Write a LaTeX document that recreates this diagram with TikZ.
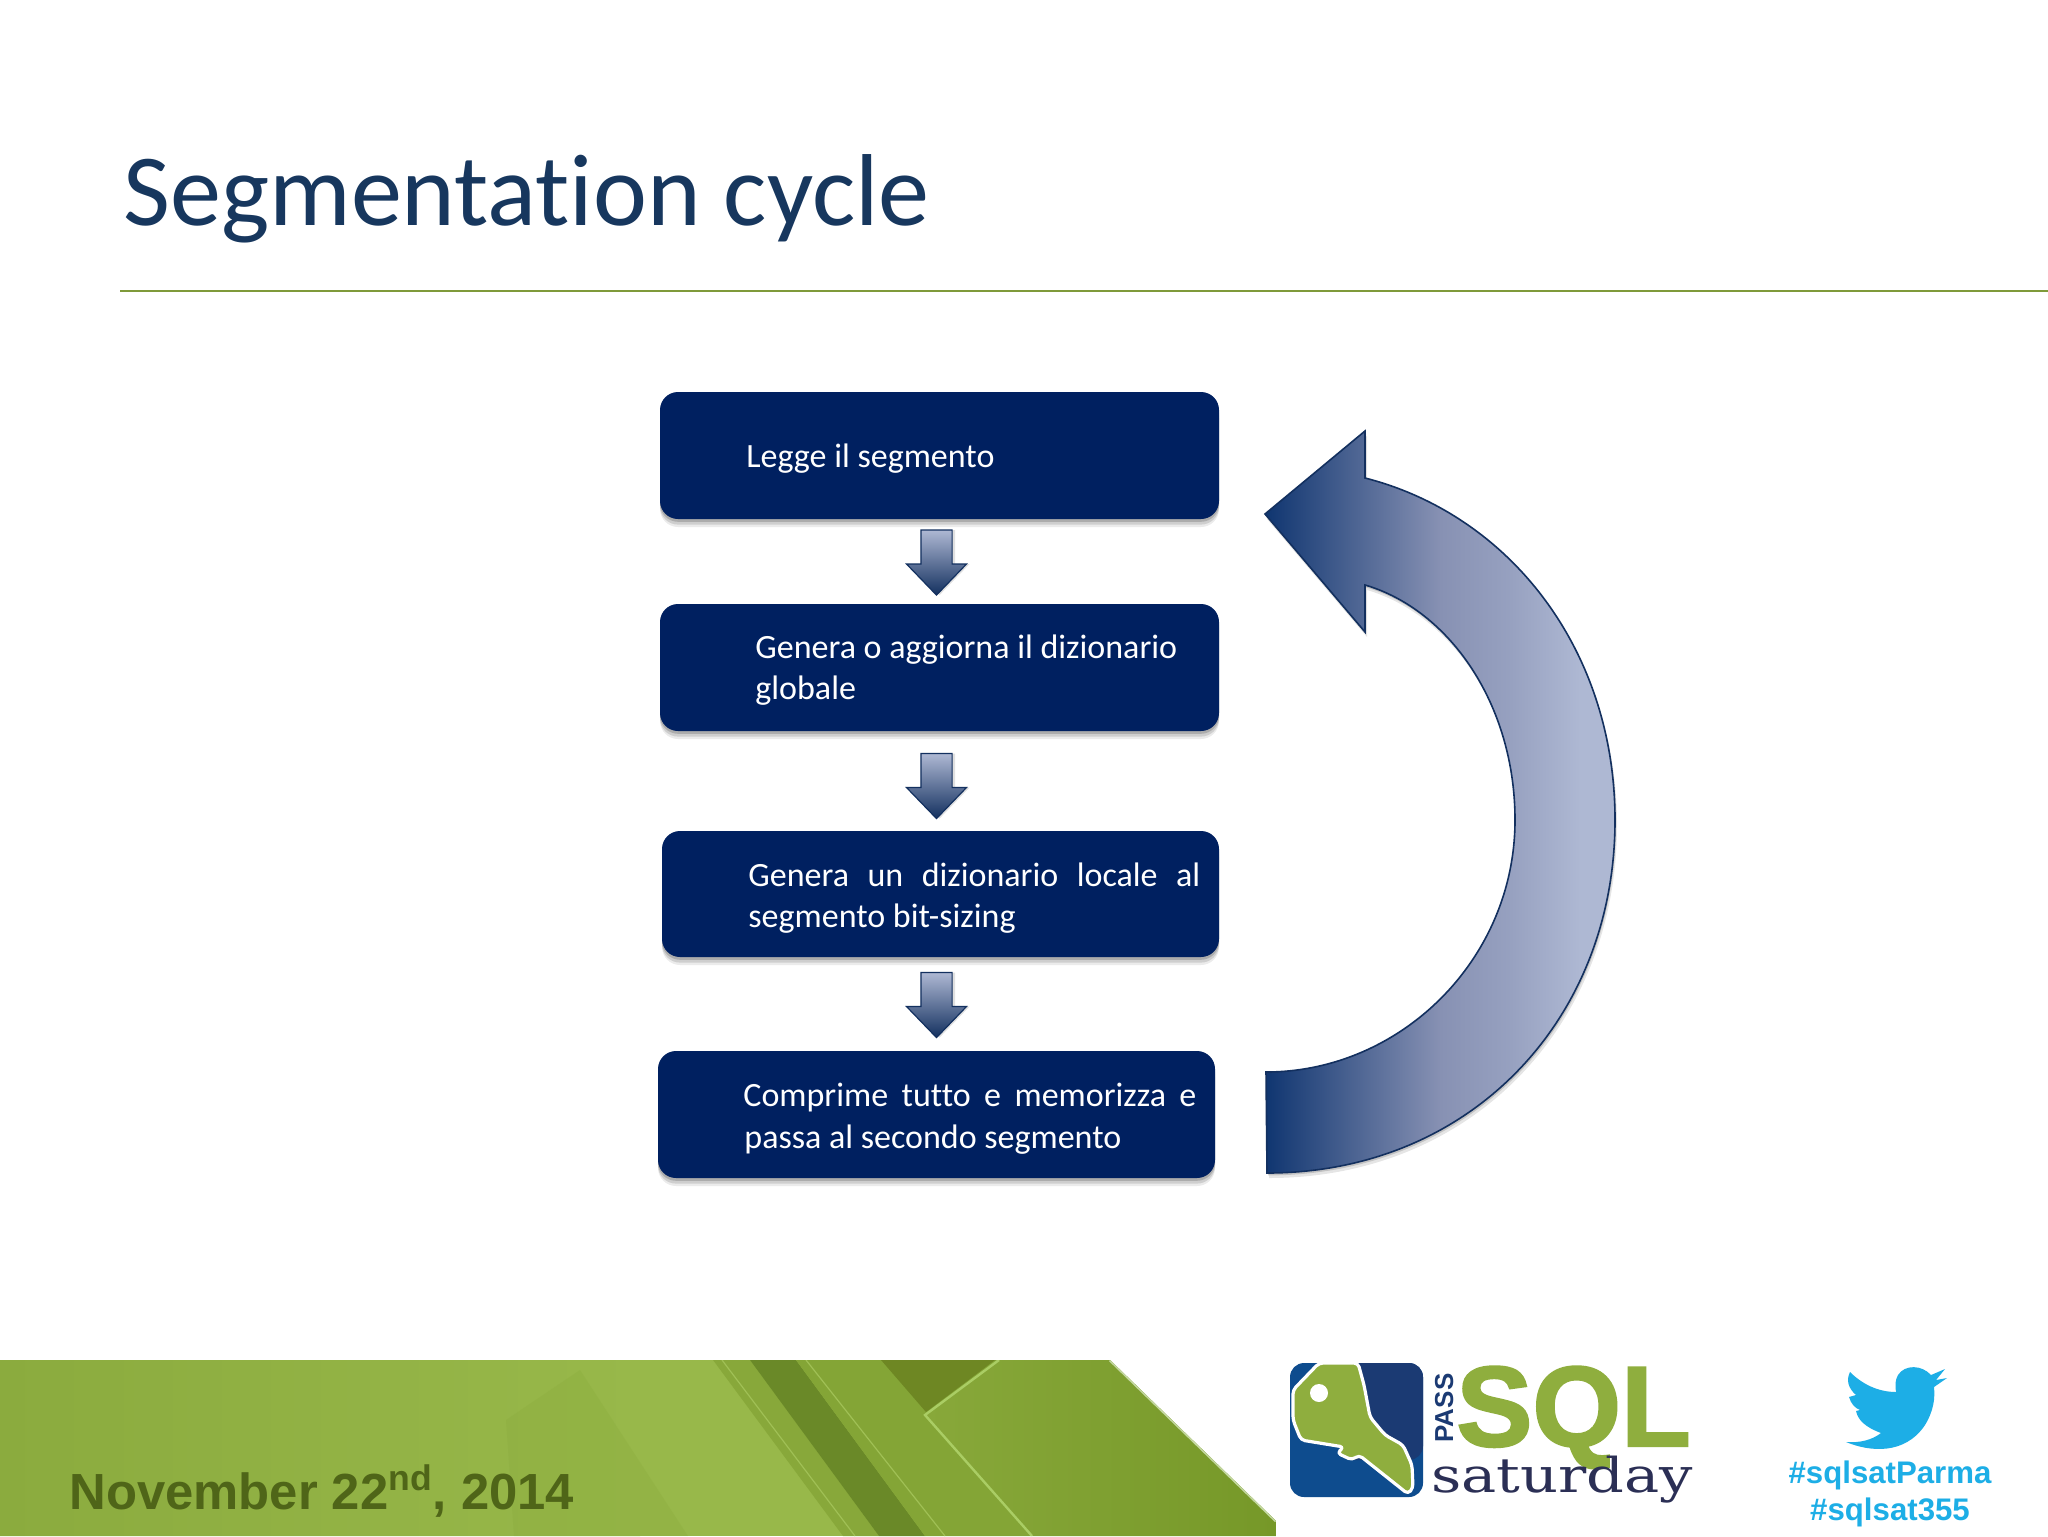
\documentclass[tikz,border=0pt]{standalone}
\usepackage{fontspec}
\setmainfont{Carlito}[Ligatures=CommonOff]
\newfontfamily\arialf{Liberation Sans}
\newfontfamily\sqlf{Liberation Sans}[BoldFeatures={FakeBold=2}]
\newfontfamily\slabf{DejaVu Serif}
\usetikzlibrary{shapes.arrows,shadows}
\definecolor{titleblue}{HTML}{17375E}
\definecolor{rulegreen}{HTML}{7F9A3A}
\definecolor{boxblue}{HTML}{002060}
\definecolor{arrowlight}{HTML}{AEB8D3}
\definecolor{arrowmid}{HTML}{8791B3}
\definecolor{arrowdark}{HTML}{0F3570}
\definecolor{arrowline}{HTML}{13305F}
\definecolor{datecol}{HTML}{4F6518}
\definecolor{twit}{HTML}{1DAEE6}
\definecolor{sqlgreen}{HTML}{8FAE3E}
\definecolor{logoblueA}{HTML}{0E4C8E}
\definecolor{logoblueB}{HTML}{1B3A73}
\definecolor{satcol}{HTML}{2B2F55}
\definecolor{bandA}{HTML}{8BAB3E}
\definecolor{bandB}{HTML}{98B84A}
\definecolor{facetA}{HTML}{84A536}
\definecolor{facetB}{HTML}{88A83A}
\definecolor{facetC}{HTML}{6A8928}
\definecolor{facetD}{HTML}{6E8723}
\definecolor{facetE}{HTML}{769828}
\definecolor{lineA}{HTML}{AACD64}
\definecolor{lineB}{HTML}{A0C055}
\definecolor{lineC}{HTML}{C3D7A0}
\pgfdeclarehorizontalshading{bigarrowshade}{100bp}{
  color(0bp)=(arrowdark);
  color(25bp)=(arrowdark);
  color(50bp)=(arrowmid);
  color(60bp)=(arrowmid!60!arrowlight);
  color(70bp)=(arrowlight);
  color(100bp)=(arrowlight)}
\tikzset{
  softshadow/.style={
    general shadow={fill=black,opacity=.08,shadow xshift=0pt,shadow yshift=-4pt},
    general shadow={fill=black,opacity=.12,shadow xshift=0pt,shadow yshift=-2.8pt},
    general shadow={fill=black,opacity=.16,shadow xshift=0pt,shadow yshift=-1.4pt}},
  stepbox/.style={draw=none,fill=boxblue,rounded corners=9pt,inner sep=0pt,softshadow},
  steptext/.style={text=white,anchor=base west,inner sep=0pt,font=\fontsize{17}{20.5}\selectfont},
  downarrow/.style={single arrow,rotate=-90,draw=arrowline,line width=.6pt,inner xsep=0pt,inner ysep=7.5pt,
    top color=arrowlight,bottom color=arrowline,
    minimum height=32.5pt,
    single arrow head extend=7.2pt,single arrow tip angle=88,
    general shadow={fill=black,opacity=.12,shadow xshift=1.5pt,shadow yshift=0pt}},
  tag/.style={text=twit,font=\arialf\bfseries\fontsize{15.6}{18}\selectfont,inner sep=0pt,anchor=base}
}
\begin{document}
\begin{tikzpicture}[x=.5pt,y=-.5pt]
\useasboundingbox (0,0) rectangle (2048,1536);
\fill[white] (0,0) rectangle (2048,1536);

% title
\node[anchor=base west,inner sep=0pt,text=titleblue,font=\fontsize{51.1}{55}\selectfont] (title) at (123,225) {Segmentation cycle};
\coordinate (ruleL) at (120,291);
\coordinate (ruleR) at (2048,291);
\draw[rulegreen,line width=1.3pt] (ruleL) -- (ruleR);

% boxes
\node[stepbox,minimum width=279.5pt,minimum height=63.5pt] (b1) at (939.5,455.5) {};
\node[stepbox,minimum width=279.5pt,minimum height=63.5pt] (b2) at (939.5,667.5) {};
\node[stepbox,minimum width=278.5pt,minimum height=63pt] (b3) at (940.5,894) {};
\node[stepbox,minimum width=278.5pt,minimum height=63.5pt] (b4) at (936.5,1114.5) {};

\node[steptext] (t1) at (746,467) {Legge il segmento};
\node[steptext] (t2a) at (755,658) {Genera o aggiorna il dizionario};
\node[steptext] (t2b) at (755,699) {globale};
\node[steptext,minimum width=226pt] (t3a) at (748,886) {\makebox[226pt][s]{Genera un dizionario locale al}};
\node[steptext] (t3b) at (748,927) {segmento bit-sizing};
\node[steptext] (t4a) at (743,1106) {\makebox[226.5pt][s]{Comprime tutto e memorizza e}};
\node[steptext] (t4b) at (744,1148) {passa al secondo segmento};

% down arrows
\node[downarrow] (a1) at (936.5,554.5) {};
\node[downarrow] (a2) at (936.5,778) {};
\node[downarrow] (a3) at (936.5,997) {};

% big return arrow
\path[shading=bigarrowshade,draw=arrowline,line width=.8pt,line join=miter,
      general shadow={fill=black,opacity=.10,shadow xshift=1pt,shadow yshift=-2.5pt},
      general shadow={fill=black,opacity=.15,shadow xshift=.5pt,shadow yshift=-1.2pt}]
  (1267,1173) .. controls (1470,1173) and (1615,1020) .. (1615,820)
  .. controls (1615,650) and (1510,515) .. (1365,478)
  -- (1365,431) -- (1265,514) -- (1365,632) -- (1365,585)
  .. controls (1450,610) and (1515,705) .. (1515,820)
  .. controls (1515,960) and (1400,1072) .. (1266,1072) -- cycle;

% green footer band
\begin{scope}
\clip (0,1360) -- (1110,1360) -- (1276,1521) -- (1276,1536) -- (0,1536) -- cycle;
\shade[left color=bandA,right color=bandB] (0,1360) rectangle (640,1536);
\fill[bandB] (640,1360) rectangle (1276,1536);
\fill[facetA,opacity=.22] (506,1420) -- (580,1370) -- (688,1536) -- (514,1536) -- cycle;
\fill[facetB] (713,1360) -- (750,1360) -- (879,1536) -- (843,1536) -- cycle;
\fill[facetC] (750,1360) -- (796,1360) -- (925,1536) -- (879,1536) -- cycle;
\fill[facetA] (796,1360) -- (999,1360) -- (925,1415) -- (1032,1536) -- (925,1536) -- cycle;
\fill[facetD] (881,1360) -- (995,1360) -- (926,1412) -- cycle;
\shade[left color=facetB,right color=facetE]
  (999,1360) -- (1110,1360) -- (1276,1521) -- (1276,1536) -- (1032,1536) -- (925,1415) -- cycle;
\draw[lineA,line width=1.2pt] (999,1360) -- (925,1415) -- (1032,1536);
\draw[lineB,line width=.6pt] (806,1360) -- (945,1536);
\draw[lineB,line width=.6pt] (722,1360) -- (855,1536);
\draw[lineC,line width=1.5pt] (1110,1360) -- (1276,1521);
\end{scope}
\node[anchor=base west,inner sep=0pt,text=datecol,font=\arialf\bfseries\fontsize{25.4}{30}\selectfont] (date) at (69,1509) {November 22\textsuperscript{nd}, 2014};

% logo
\fill[logoblueA,rounded corners=7pt] (1290,1363) rectangle (1423,1497);
\fill[logoblueB,rounded corners=7pt] (1340,1363) rectangle (1423,1460);
\fill[logoblueB] (1340,1363) rectangle (1380,1400);
\fill[sqlgreen,draw=white,line width=1.6pt,rounded corners=2pt,line join=round]
  (1319,1363) -- (1358,1363) -- (1364,1385) -- (1370,1417) -- (1385,1435) -- (1403,1445)
  -- (1412,1465) -- (1413,1488) -- (1408,1494) -- (1359,1455) -- (1352,1460) -- (1337,1453)
  -- (1344,1447) -- (1301,1440) -- (1293,1420) -- (1293,1390) -- cycle;
\fill[white] (1319,1393) circle (9);
\node[anchor=base west,inner sep=0pt,text=sqlgreen,font=\sqlf\bfseries\fontsize{57}{60}\selectfont] (sql) at (1456,1446) {SQL};
\node[anchor=base west,inner sep=0pt,xscale=1.23,text=satcol,font=\slabf\fontsize{24}{30}\selectfont] (sat) at (1431,1492) {saturday};
\node[anchor=base,rotate=90,inner sep=0pt,text=logoblueB,font=\arialf\bfseries\fontsize{13}{15}\selectfont] (pass) at (1453,1408) {PASS};

% twitter bird
\fill[twit] (1846,1442) .. controls (1870,1452) and (1905,1455) .. (1925,1425)
  .. controls (1934,1410) and (1935,1398) .. (1934,1387)
  -- (1947,1378) -- (1936,1380) -- (1945,1369) -- (1931,1375)
  .. controls (1922,1365) and (1905,1364) .. (1898,1375)
  .. controls (1895,1380) and (1895,1386) .. (1896,1392)
  .. controls (1878,1392) and (1862,1384) .. (1850,1372)
  .. controls (1846,1380) and (1848,1388) .. (1856,1395)
  -- (1849,1397) .. controls (1851,1404) and (1855,1408) .. (1860,1410)
  -- (1856,1411) .. controls (1858,1420) and (1865,1427) .. (1881,1433)
  .. controls (1872,1440) and (1860,1443) .. (1846,1442) -- cycle;
\node[tag] (h1) at (1890,1483) {\#sqlsatParma};
\node[tag] (h2) at (1890,1520) {\#sqlsat355};
\end{tikzpicture}
\end{document}
